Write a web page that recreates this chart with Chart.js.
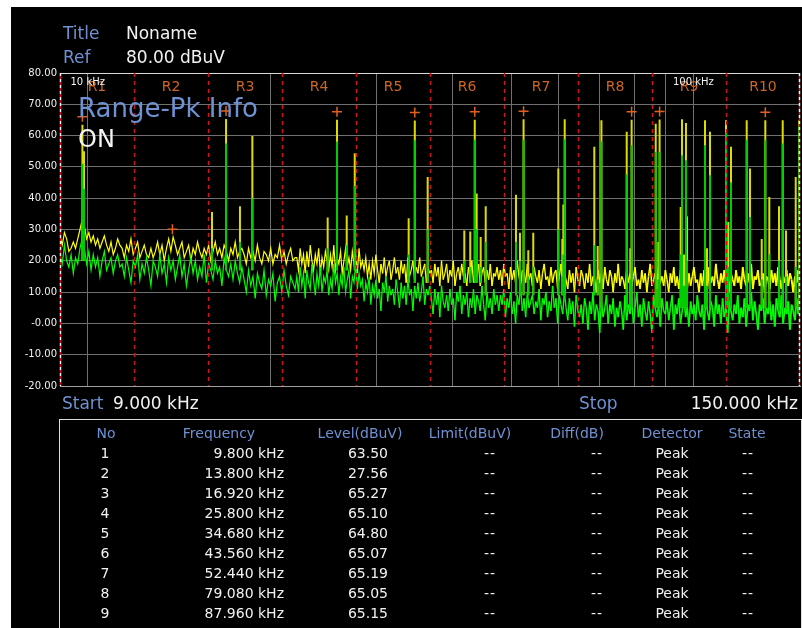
<!DOCTYPE html>
<html>
<head>
<meta charset="utf-8">
<script src="https://cdn.jsdelivr.net/npm/chart.js@4.4.1/dist/chart.umd.min.js"></script>
<style>
  html, body { margin: 0; padding: 0; background: #fff; }
  body { width: 802px; height: 628px; position: relative; overflow: hidden; font-family: "DejaVu Sans", sans-serif; }
  #screen { position: absolute; left: 11px; top: 7px; width: 791px; height: 621px; background: #000; }
  #chart { position: absolute; left: 0; top: 0; }
  .t { position: absolute; white-space: nowrap; }
  .blue { color: #6e91d2; }
  .white { color: #f2f2f2; }
  .big { font-size: 17px; line-height: 20px; }
  #table { position: absolute; left: 59px; top: 419px; width: 741px; height: 220px; border: 1px solid #dcdcdc; }
  .cell { position: absolute; font-size: 14px; line-height: 20px; white-space: nowrap; }
  .dash { letter-spacing: 1px; }
</style>
</head>
<body>
<div id="screen"></div>
<canvas id="chart" width="802" height="628"></canvas>

<div class="t blue big" style="left:63px;top:23px">Title</div>
<div class="t white big" style="left:126px;top:23px">Noname</div>
<div class="t blue big" style="left:63px;top:47px">Ref</div>
<div class="t white big" style="left:126px;top:47px">80.00 dBuV</div>

<div class="t blue" style="left:78px;top:95px;font-size:26px;line-height:26px">Range-Pk Info</div>
<div class="t white" style="left:78px;top:127px;font-size:24px;line-height:24px">ON</div>

<div class="t blue big" style="left:62px;top:393px">Start</div>
<div class="t white big" style="left:113px;top:393px">9.000 kHz</div>
<div class="t blue big" style="left:579px;top:393px">Stop</div>
<div class="t white big" style="right:4px;top:393px">150.000 kHz</div>

<div id="table"></div>

<script>
// 掃引範囲 (kHz)
const START_KHZ = 9;
const SPLIT_KHZ = 22; // ここから上は掃引点が密
const STOP_KHZ = 150;

// 縦軸 (dBuV)
const LEVEL_MIN = -20;
const LEVEL_MAX = 80;

// 縦グリッドを引く周波数と、上端に出す周波数ラベル
const gridFreqs = [10, 20, 30, 40, 50, 60, 70, 80, 90, 100];
const axisLabelFreqs = [10, 100];
const axisLabelText = ["10 kHz", "100 kHz"];

// レンジ境界 (R1〜R10)
const rangeEdges = [9, 11.92, 15.80, 20.93, 27.73, 36.74, 48.68, 64.50, 85.45, 113.21, 150];
const rangeNames = ["R1", "R2", "R3", "R4", "R5", "R6", "R7", "R8", "R9", "R10"];

// ノイズフロア 9〜22 kHz
const yellowNoiseLow = [
  28, 25, 29, 27, 23, 24, 26, 24, 27, 30, 33,
  31, 27, 29, 26, 28, 25, 27, 24, 26, 28, 25, 23, 26, 22, 24, 27, 25,
  24, 21, 25, 23, 27, 22, 24, 26, 21, 23, 25, 22, 21, 24, 21, 23, 26, 22, 25, 20,
  24, 27, 23, 27.6, 25, 22, 24, 26, 21, 23, 25, 20, 24, 22, 26, 23, 21, 24, 22, 25,
  20, 23, 26, 22, 24, 21, 25, 23, 20, 24, 22, 26, 21, 23, 24,
  22, 19, 24, 21, 23, 20, 25, 21, 19, 23, 22, 20, 24, 19, 22, 21, 25, 20, 23, 19,
  22, 24, 20, 21
];
const greenNoiseLow = [
  22, 19, 25, 20, 18, 22, 16, 21, 19, 24, 27,
  24, 19, 23, 17, 22, 18, 21, 15, 20, 23, 17, 19, 21, 16, 20, 22, 18,
  19, 15, 21, 17, 13, 20, 18, 22, 14, 19, 16, 21, 17, 12, 20, 18, 15, 22, 16, 19,
  13, 21, 17, 20, 14, 18, 22, 15, 19, 12, 17, 21, 16, 20, 14, 18, 15, 22, 13, 19,
  17, 14, 20, 16, 18, 12, 21, 17, 15, 19, 14, 20, 16, 13, 18,
  14, 10, 17, 12, 15, 8, 16, 13, 11, 17, 9, 14, 12, 16, 7, 13, 15, 10, 17, 12,
  9, 15, 13, 11
];

// ノイズフロア 22〜150 kHz
const yellowNoiseHigh = [
  21, 17, 24, 19, 22, 16, 23, 18, 25, 20, 17, 22, 19, 24, 16, 21, 18, 23, 20, 17,
  22, 18, 25, 17, 21, 19, 23, 16, 20, 24, 18, 21, 17, 23, 19, 22, 16, 24, 18, 20,
  17, 21, 15, 19, 14, 20, 16, 22, 17, 13, 19, 16, 21, 15, 18, 20, 14, 17, 21, 16,
  18, 14, 20, 16, 19, 13, 21, 15, 17, 20, 14, 18, 16, 21, 15, 17, 19, 13, 18, 16,
  17, 13, 19, 15, 18, 12, 20, 14, 16, 19, 13, 17, 15, 20, 12, 16, 18, 14, 19, 15,
  16, 12, 18, 14, 20, 13, 17, 15, 19, 12, 16, 18, 13, 17, 14, 19, 12, 16, 15, 18,
  14, 17, 12, 19, 15, 16, 11, 18, 14, 17, 13, 20, 15, 12, 17, 16, 13, 19, 14, 16,
  12, 18, 15, 13, 17, 11, 16, 19, 14, 15, 12, 18, 13, 16, 17, 11, 15, 19, 13, 16,
  14, 11, 17, 13, 16, 10, 18, 14, 12, 17, 15, 11, 16, 13, 19, 12, 15, 14, 10, 17,
  13, 16, 11, 18, 14, 12, 17, 15, 10, 16, 13, 19, 12, 15, 14, 11, 17, 13, 16, 12,
  15, 18, 12, 14, 11, 17, 13, 16, 10, 15, 19, 12, 14, 16, 11, 18, 13, 15, 12, 17,
  14, 10, 16, 13, 18, 12, 15, 11, 17, 14, 13, 19, 11, 16, 12, 15, 18, 13, 14, 10,
  16, 12, 17, 14, 11, 18, 13, 15, 12, 19, 14, 11, 16, 13, 17, 12, 15, 10, 16, 14,
  12, 17, 13, 15, 11, 18, 14, 12, 16, 13, 19, 11, 15, 14, 17, 12, 13, 16, 10, 15,
  14, 11, 17, 13, 16, 12, 18, 14, 11, 15, 13, 17, 12, 16, 14, 10, 15, 13, 17, 12
];
const greenNoiseHigh = [
  15, 10, 18, 12, 16, 8, 17, 13, 11, 19, 14, 9, 16, 12, 18, 10, 15, 13, 17, 9,
  14, 11, 19, 13, 16, 9, 15, 12, 18, 10, 14, 17, 8, 15, 13, 19, 11, 16, 12, 14,
  7, 13, 10, 15, 6, 12, 9, 14, 8, 11, 4, 13, 10, 15, 7, 12, 9, 11, 6, 14,
  10, 5, 13, 8, 12, 6, 14, 9, 11, 4, 12, 8, 13, 7, 10, 15, 6, 11, 9, 12,
  8, 3, 11, 6, 10, 2, 12, 7, 5, 9, 4, 11, 6, 8, 1, 10, 7, 12, 3, 9,
  6, 10, 2, 8, 5, 11, 3, 9, 7, 4, 12, 6, 1, 10, 5, 8, 3, 11, 6, 9,
  4, 9, 6, 11, 2, 8, 5, 10, 3, 7, 0, 9, 6, 12, 4, 8, 2, 10, 5, 7,
  9, 3, 7, 5, 11, 1, 8, 6, 10, 2, 7, 4, 12, 5, 8, 0, 9, 6, 3, 10,
  5, 1, 8, 3, 7, -1, 9, 4, 2, 6, 0, 8, 5, -2, 7, 3, 10, 1, 6, 4,
  -3, 7, 2, 5, 9, 0, 6, 3, 8, -1, 5, 2, 7, 4, -2, 9, 1, 6, 3, 8,
  0, 5, 10, 2, 6, -1, 8, 4, 1, 7, 3, -3, 9, 5, 2, 6, -1, 8, 4, 3,
  7, 1, 5, 9, -2, 6, 3, 8, 0, 4, 10, 2, 5, -1, 7, 3, 6, 1, 9, 4,
  2, 6, -2, 8, 4, 1, 7, 5, -1, 9, 3, 6, 0, 8, 2, 5, -3, 7, 4, 1,
  6, 3, 9, 0, 5, 2, 8, -1, 6, 4, 10, 1, 7, 3, -2, 6, 4, 8, 0, 5,
  3, 7, 1, 6, -1, 8, 4, 2, 9, 0, 5, 3, 7, -2, 6, 4, 1, 8, 3, 5
];

// スパイク (周波数 kHz, 黄ピーク, 緑ピーク, 根元)
const spikeFreq = [
  9.80, 9.86, 16.04, 16.92, 17.84, 18.70, 24.90, 25.80, 26.77, 27.60,
  33.88, 34.68, 36.42, 41.86, 42.82, 43.56, 43.88, 44.55, 45.41, 50.95,
  51.73, 52.44, 53.39, 54.41, 59.84, 60.76, 61.00, 61.32, 68.62, 69.51,
  70.50, 77.62, 78.69, 79.08, 86.67, 87.53, 87.96, 95.30, 95.78, 96.51,
  97.24, 97.61, 104.53, 105.33, 106.53, 113.22, 114.21, 115.39, 122.49, 124.04,
  129.68, 131.47, 133.48, 138.49, 140.46, 142.24, 147.58, 149.60
];
const spikeYellow = [
  63.5, 55, 35.6, 65.27, 37.4, 59.9, 33.8, 65.1, 34.5, 54.4,
  33.6, 64.8, 46.8, 29.7, 29.4, 65.07, 41.5, 27.6, 37.4, 41.1,
  29, 65.19, 23.4, 29, 49.5, 27, 38, 65.2, 56.4, 24.7,
  64.9, 61.2, 24, 65.05, 63.8, 26, 65.15, 37.2, 65.2, 22,
  64, 34.2, 64.9, 24, 61.2, 64.9, 32.4, 56.4, 64.9, 49.5,
  27, 64.9, 40.4, 37.4, 64.9, 29.7, 46.8, 64.9
];
const spikeGreen = [
  51, 43, 24, 57.5, 26, 40, 24, 58, 25, 44,
  22, 58.5, 30, 20, 18, 58.7, 30, 18, 26, 26,
  20, 58.7, 15, 18, 30, 15, 22, 58.8, 25, 14,
  58.1, 47.6, 14, 56.9, 54.8, 14, 54.8, 22, 53.7, 12,
  52.1, 20, 56.9, 12, 47.3, 61, 18, 45, 58.7, 34,
  14, 58.7, 22, 20, 57.5, 15, 18, 63
];
const spikeFloor = [
  20, 20, 17, 17, 17, 17, 17, 17, 17, 17,
  13, 13, 13, 13, 13, 13, 13, 13, 9, 9,
  9, 9, 9, 9, 9, 9, 9, 9, 9, 9,
  5, 5, 5, 5, 5, 5, 5, 5, 5, 5,
  5, 5, 5, 5, 5, 5, 5, 5, 5, 5,
  5, 5, 5, 5, 5, 5, 5, 5
];

// レンジごとのピーク (マーカーと表)
const markerFreq = [9.8, 13.8, 16.92, 25.8, 34.68, 43.56, 52.44, 79.08, 87.96, 131.47];
const markerLevel = [63.5, 27.56, 65.27, 65.1, 64.8, 65.07, 65.19, 65.05, 65.15, 64.9];
const TABLE_ROWS = 9;

// 掃引点 (低域は start から、高域は split の次の点から)
function sweep(low, high) {
  const pts = low.map((v, i) => ({
    x: START_KHZ * Math.pow(SPLIT_KHZ / START_KHZ, i / (low.length - 1)),
    y: v,
  }));
  high.forEach((v, i) => {
    pts.push({ x: SPLIT_KHZ * Math.pow(STOP_KHZ / SPLIT_KHZ, (i + 1) / high.length), y: v });
  });
  return pts;
}

// スパイクを縦線 (途切れ付き) にする
function spikeLines(tops) {
  const pts = [];
  spikeFreq.forEach((f, i) => {
    pts.push({ x: f, y: spikeFloor[i] }, { x: f, y: tops[i] }, { x: f, y: null });
  });
  return pts;
}

// 高域ほど線を少しずつ太く (実機の密な掃引に近づける)
const noiseSegment = {
  borderWidth: (c) => {
    const t = Math.min(Math.max((c.p0.parsed.x - 30) / (STOP_KHZ - 30), 0), 1);
    return 1.2 + 0.7 * t;
  },
};

const overlay = {
  id: "overlay",
  afterDatasetsDraw(chart) {
    const { ctx, chartArea: a, scales: { x, y } } = chart;
    ctx.save();

    // レンジ境界の赤点線
    ctx.lineWidth = 1.5;
    rangeEdges.forEach((f, i) => {
      const px = Math.round(x.getPixelForValue(f)) + (i === rangeEdges.length - 1 ? -0.5 : 0.5);
      const edge = i === 0 || i === rangeEdges.length - 1;
      if (edge) {
        ctx.setLineDash([3, 3]);
        ctx.strokeStyle = "#f0f0f0";
        ctx.lineDashOffset = 0;
        ctx.beginPath(); ctx.moveTo(px, a.top); ctx.lineTo(px, a.bottom); ctx.stroke();
        ctx.lineDashOffset = 3;
      } else {
        ctx.setLineDash([4, 4]);
        ctx.lineDashOffset = 0;
      }
      ctx.strokeStyle = "#d41414";
      ctx.beginPath(); ctx.moveTo(px, a.top); ctx.lineTo(px, a.bottom); ctx.stroke();
    });
    ctx.setLineDash([]);

    // レンジ名
    ctx.fillStyle = "#cc6622";
    ctx.font = "14px 'DejaVu Sans'";
    ctx.textAlign = "center";
    ctx.textBaseline = "middle";
    rangeNames.forEach((name, i) => {
      const cx = (x.getPixelForValue(rangeEdges[i]) + x.getPixelForValue(rangeEdges[i + 1])) / 2;
      ctx.fillText(name, cx, a.top + 14);
    });

    // 10 kHz / 100 kHz
    ctx.fillStyle = "#f4f4f4";
    ctx.font = "10px 'DejaVu Sans'";
    axisLabelFreqs.forEach((f, i) => {
      ctx.fillText(axisLabelText[i], x.getPixelForValue(f), a.top + 9);
    });

    // ピークマーカー (+)
    ctx.strokeStyle = "#e0601c";
    ctx.lineWidth = 1.5;
    markerFreq.forEach((f, i) => {
      const px = x.getPixelForValue(f);
      const py = y.getPixelForValue(markerLevel[i]) - 8;
      ctx.beginPath();
      ctx.moveTo(px - 5, py); ctx.lineTo(px + 5, py);
      ctx.moveTo(px, py - 5); ctx.lineTo(px, py + 5);
      ctx.stroke();
    });
    ctx.restore();
  },
};

Chart.defaults.font.family = "'DejaVu Sans', sans-serif";

new Chart(document.getElementById("chart"), {
  type: "line",
  data: {
    datasets: [
      { data: sweep(yellowNoiseLow, yellowNoiseHigh), borderColor: "#ffff00", borderWidth: 1.2, segment: noiseSegment, pointRadius: 0, order: 4 },
      { data: spikeLines(spikeYellow), borderColor: "#dcdc00", borderWidth: 2, pointRadius: 0, spanGaps: false, order: 3 },
      { data: sweep(greenNoiseLow, greenNoiseHigh), borderColor: "#00ff00", borderWidth: 1.2, segment: noiseSegment, pointRadius: 0, order: 2 },
      { data: spikeLines(spikeGreen), borderColor: "#00cc00", borderWidth: 2, pointRadius: 0, spanGaps: false, order: 1 },
    ],
  },
  options: {
    animation: false,
    responsive: false,
    devicePixelRatio: 1,
    layout: { padding: { left: 10, right: 2, top: 73, bottom: 242 } },
    plugins: { legend: { display: false }, tooltip: { enabled: false } },
    elements: { line: { tension: 0 } },
    scales: {
      x: {
        type: "logarithmic",
        min: START_KHZ,
        max: STOP_KHZ,
        afterBuildTicks: (s) => { s.ticks = gridFreqs.map((v) => ({ value: v })); },
        afterFit: (s) => { s.height = 0; },
        ticks: { display: false },
        grid: { color: "#707070", lineWidth: 1, drawTicks: false },
        border: { display: true, color: "#a0a0a0" },
      },
      y: {
        min: LEVEL_MIN,
        max: LEVEL_MAX,
        afterFit: (s) => { s.width = 50; },
        ticks: {
          stepSize: 10,
          color: "#f0f0f0",
          font: { size: 10 },
          padding: 3,
          callback: (v) => (v === 0 ? "-0.00" : v.toFixed(2)),
        },
        grid: { color: (c) => (c.tick.value === LEVEL_MAX ? "#d8d8d8" : "#707070"), drawTicks: false },
        border: { display: false },
      },
    },
  },
  plugins: [overlay],
});

// ピーク一覧表
const columns = [
  { head: "No", center: 106, cell: (i) => String(i + 1), align: "center", at: 105 },
  { head: "Frequency", center: 219, cell: (i) => markerFreq[i].toFixed(3) + " kHz", align: "right", at: 284 },
  { head: "Level(dBuV)", center: 360, cell: (i) => markerLevel[i].toFixed(2), align: "right", at: 388 },
  { head: "Limit(dBuV)", center: 470, cell: () => "--", align: "right", at: 496 },
  { head: "Diff(dB)", center: 577, cell: () => "--", align: "right", at: 603 },
  { head: "Detector", center: 672, cell: () => "Peak", align: "center", at: 672 },
  { head: "State", center: 747, cell: () => "--", align: "center", at: 748 },
];

function place(text, cls, align, at, cy) {
  const d = document.createElement("div");
  d.className = "cell " + cls + (text === "--" ? " dash" : "");
  d.textContent = text;
  d.style.top = (cy - 10) + "px";
  if (align === "right") {
    d.style.right = (802 - at) + "px";
  } else {
    d.style.left = (at - 100) + "px";
    d.style.width = "200px";
    d.style.textAlign = "center";
  }
  document.body.appendChild(d);
}

columns.forEach((c) => {
  place(c.head, "blue", "center", c.center, 433);
  for (let i = 0; i < TABLE_ROWS; i++) {
    place(c.cell(i), "white", c.align, c.at, 453 + i * 20);
  }
});
</script>
</body>
</html>
